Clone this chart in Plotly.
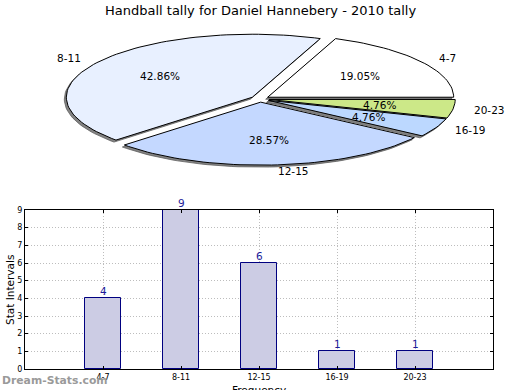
import math
import plotly.graph_objects as go

# ---- data ----
categories = ["4-7", "8-11", "12-15", "16-19", "20-23"]
counts = [4, 9, 6, 1, 1]
slice_colors = ["#ffffff", "#e8f0ff", "#c4d8ff", "#bcd8ff", "#cce888"]
y_ticks = list(range(0, 10))
title_text = "Handball tally for Daniel Hannebery - 2010 tally"

W, H = 520, 390
FONT = "DejaVu Sans"

fig = go.Figure()

# ---- pie (drawn as elliptical wedges in a pixel-coordinate axis) ----
cx, cy = 260.0, 99.0
rx, ry = 186.0, 63.0
explode = 0.05
total = float(sum(counts))

annotations = []
start = 0.0
wedges = []
for cat, val, col in zip(categories, counts, slice_colors):
    frac = val / total
    t1 = start
    t2 = start + 360.0 * frac
    mid = math.radians((t1 + t2) / 2)
    ox = cx + explode * rx * math.cos(mid)
    oy = cy - explode * ry * math.sin(mid)
    n = max(3, int((t2 - t1) / 2) + 2)
    xs = [ox]
    ys = [oy]
    for i in range(n + 1):
        a = math.radians(t1 + (t2 - t1) * i / n)
        xs.append(ox + rx * math.cos(a))
        ys.append(oy - ry * math.sin(a))
    xs.append(ox)
    ys.append(oy)
    wedges.append((cat, col, xs, ys, frac, mid, ox, oy))
    start = t2

# shadows
for cat, col, xs, ys, frac, mid, ox, oy in wedges:
    fig.add_trace(go.Scatter(
        x=[v - 2 for v in xs], y=[v + 2 for v in ys], mode="lines",
        fill="toself", fillcolor="rgba(90,90,90,0.75)",
        line=dict(color="rgba(90,90,90,0.75)", width=1),
        xaxis="x2", yaxis="y2", hoverinfo="skip", showlegend=False))
# wedges
for cat, col, xs, ys, frac, mid, ox, oy in wedges:
    fig.add_trace(go.Scatter(
        x=xs, y=ys, mode="lines", fill="toself", fillcolor=col,
        line=dict(color="#000000", width=1),
        xaxis="x2", yaxis="y2", name=cat, showlegend=False))
    lx = ox + 1.1 * rx * math.cos(mid)
    ly = oy - 1.1 * ry * math.sin(mid)
    annotations.append(dict(
        x=lx, y=ly, xref="x2", yref="y2", text=cat, showarrow=False,
        xanchor="left" if math.cos(mid) > 0 else "right", yanchor="middle",
        font=dict(family=FONT, size=10.5, color="#000000")))
    px = ox + 0.6 * rx * math.cos(mid)
    py = oy - 0.6 * ry * math.sin(mid)
    annotations.append(dict(
        x=px, y=py, xref="x2", yref="y2", text="%.2f%%" % (frac * 100),
        showarrow=False, xanchor="center", yanchor="middle",
        font=dict(family=FONT, size=10.5, color="#000000")))

# ---- bar chart ----
xpos = list(range(1, len(categories) + 1))
fig.add_trace(go.Bar(
    x=xpos, y=counts, width=0.46,
    marker=dict(color="rgb(204,204,228)", line=dict(color="#000080", width=1)),
    showlegend=False, xaxis="x", yaxis="y"))
for xv, v in zip(xpos, counts):
    annotations.append(dict(
        x=xv, y=v, xref="x", yref="y", text=str(v), showarrow=False,
        xanchor="center", yanchor="middle", yshift=7,
        font=dict(family=FONT, size=10.5, color="#1c1c9a")))

def pxx(p):
    return p / W

def pxy(p):
    return 1 - p / H

grid = dict(showgrid=True, gridcolor="#bdbdbd", griddash="1px,2px", gridwidth=1)

fig.update_layout(
    width=W, height=H,
    margin=dict(l=0, r=0, t=0, b=0, pad=0, autoexpand=False),
    paper_bgcolor="white", plot_bgcolor="rgba(0,0,0,0)",
    font=dict(family=FONT, color="#000000"),
    bargap=0,
    xaxis=dict(domain=[pxx(25), pxx(493)], range=[0, 6],
               tickvals=xpos, ticktext=categories,
               tickfont=dict(family=FONT, size=8),
               ticks="inside", ticklen=3, tickcolor="#000",
               showline=True, linecolor="#000", linewidth=1, mirror="ticks",
               zeroline=False, layer="above traces", anchor="y",
               automargin=False, **grid),
    yaxis=dict(domain=[pxy(369), pxy(210)], range=[0, 9],
               tickvals=y_ticks, tickfont=dict(family=FONT, size=8),
               ticks="inside", ticklen=3, tickcolor="#000",
               showline=True, linecolor="#000", linewidth=1, mirror="ticks",
               zeroline=False, layer="above traces", anchor="x",
               automargin=False, **grid),
    xaxis2=dict(domain=[0, 1], range=[0, W], visible=False, anchor="y2",
                automargin=False),
    yaxis2=dict(domain=[0, 1], range=[H, 0], visible=False, anchor="x2",
                automargin=False),
)

annotations += [
    dict(x=0.5, y=pxy(10), xref="paper", yref="paper", text=title_text,
         showarrow=False, xanchor="center", yanchor="middle",
         font=dict(family=FONT, size=13, color="#000")),
    dict(x=pxx(10), y=pxy(290), xref="paper", yref="paper", text="Stat Intervals",
         showarrow=False, textangle=-90, xanchor="center", yanchor="middle",
         font=dict(family=FONT, size=10.5, color="#000")),
    dict(x=pxx(259), y=pxy(390), xref="paper", yref="paper", text="Frequency",
         showarrow=False, xanchor="center", yanchor="middle",
         font=dict(family=FONT, size=10.5, color="#000")),
    dict(x=0, y=pxy(380), xref="paper", yref="paper", text="<b>Dream-Stats.com</b>",
         showarrow=False, xanchor="left", yanchor="middle",
         font=dict(family=FONT, size=10.8, color="#9a9a9a")),
]
fig.update_layout(annotations=annotations)

fig.write_html("out.html", config={"displayModeBar": False},
               post_script="document.body.style.margin='0px';")
